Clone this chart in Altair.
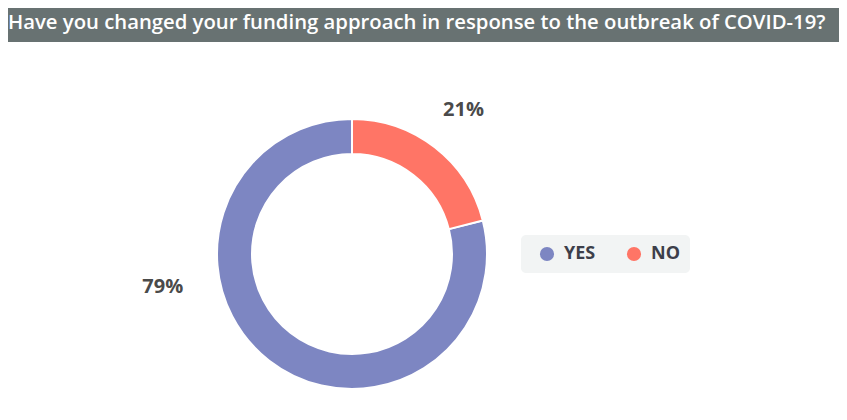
import altair as alt
import pandas as pd

categories = ["YES", "NO"]
values = [79, 21]
labels = ["79%", "21%"]
colors = ["#7d86c2", "#ff7566"]
title_text = "Have you changed your funding approach in response to the outbreak of COVID-19?"

df = pd.DataFrame({"answer": categories, "value": values, "label": labels})

W, H = 831, 404
CX, CY = 344, 246

base = alt.Chart(df).encode(
    theta=alt.Theta("value:Q", stack=True),
    order=alt.Order("answer:N", sort="ascending"),
)

color_scale = alt.Scale(domain=categories, range=colors)

arcs = base.mark_arc(
    innerRadius=100, outerRadius=135, stroke="white", strokeWidth=2
).encode(
    x=alt.value(CX),
    y=alt.value(CY),
    color=alt.Color(
        "answer:N",
        scale=color_scale,
        sort=categories,
        legend=alt.Legend(
            title=None,
            orient="none",
            legendX=513,
            legendY=227,
            direction="horizontal",
            fillColor="#f2f4f4",
            cornerRadius=5,
            padding=10,
            symbolType="circle",
            symbolSize=200,
            symbolStrokeWidth=0,
            symbolOffset=7,
            labelOffset=8,
            columnPadding=22,
            labelFont="Open Sans",
            labelFontWeight="bold",
            labelFontSize=18,
            labelColor="#3d3f4a",
        ),
    ),
)

label_style = dict(font="Open Sans", fontWeight="bold", fontSize=20, color="#4a4a4a")

yes_label = base.mark_text(radius=192, thetaOffset=0.74, **label_style).encode(
    x=alt.value(CX), y=alt.value(CY),
    text=alt.condition(alt.datum.answer == "YES", "label:N", alt.value("")),
)
no_label = base.mark_text(radius=182, **label_style).encode(
    x=alt.value(CX), y=alt.value(CY),
    text=alt.condition(alt.datum.answer == "NO", "label:N", alt.value("")),
)

bar = alt.Chart(alt.Data(values=[{}])).mark_rect(color="#687272").encode(
    x=alt.value(0), x2=alt.value(W), y=alt.value(0), y2=alt.value(34)
)
title = alt.Chart(alt.Data(values=[{}])).mark_text(
    align="left", baseline="middle", font="Open Sans", fontSize=20.3,
    fontWeight=600, color="white"
).encode(x=alt.value(0), y=alt.value(15), text=alt.value(title_text))

chart = alt.layer(bar, title, arcs, no_label, yes_label).properties(
    width=W, height=H, autosize=alt.AutoSizeParams(type="none"), padding=0
).configure_view(stroke=None)

chart.save("out.html", embed_options={"renderer": "svg", "actions": False})
